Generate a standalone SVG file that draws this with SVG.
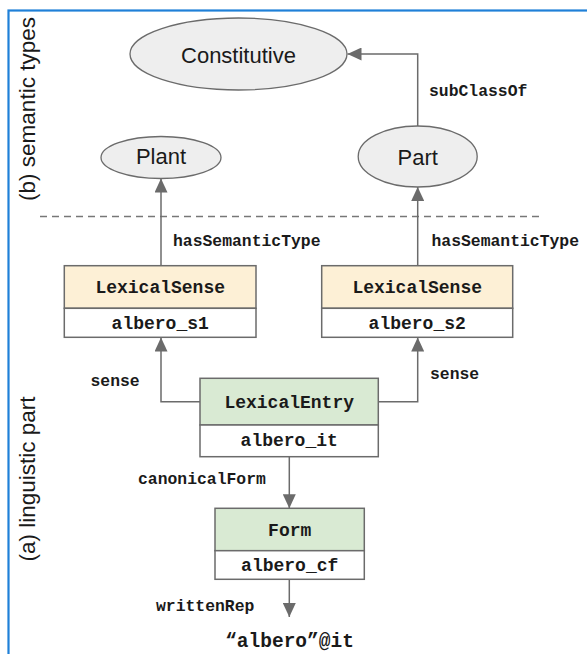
<svg xmlns="http://www.w3.org/2000/svg" width="587" height="654" viewBox="0 0 587 654">
<style>
.bg{fill:#ffffff}
.frame{fill:none;stroke:#1f80d8;stroke-width:2.2}
.ell{fill:#eeeeee;stroke:#6b6b6b;stroke-width:1.3}
.etxt{font-family:"Liberation Sans",Arial,sans-serif;font-size:22px;fill:#1a1a1a;text-anchor:middle;dominant-baseline:central}
.side{font-family:"Liberation Sans",Arial,sans-serif;font-size:22.5px;fill:#1a1a1a;text-anchor:middle}
.sense{fill:#fdf0d6;stroke:#6b6b6b;stroke-width:1.5}
.entry{fill:#d9ead3;stroke:#6b6b6b;stroke-width:1.5}
.low{fill:#ffffff;stroke:#6b6b6b;stroke-width:1.5}
.btxt{font-family:"Liberation Mono","Courier New",monospace;font-weight:bold;font-size:18px;fill:#1a1a1a;text-anchor:middle;dominant-baseline:central}
.ltxt{font-family:"Liberation Mono","Courier New",monospace;font-weight:bold;font-size:16.4px;fill:#1a1a1a;dominant-baseline:central}
.lit{font-family:"Liberation Mono","Courier New",monospace;font-weight:bold;font-size:19.5px;fill:#1a1a1a;text-anchor:middle}
.edge{fill:none;stroke:#6b6b6b;stroke-width:1.5}
.dash{fill:none;stroke:#777;stroke-width:1.3;stroke-dasharray:7,5}
</style>
<defs>
<marker id="ah" markerUnits="userSpaceOnUse" markerWidth="14" markerHeight="13" refX="14" refY="6.5" orient="auto">
<path d="M0,0 L14,6.5 L0,13 z" fill="#6b6b6b"/>
</marker>
</defs>
<rect class="bg" x="0" y="0" width="587" height="654"/>
<rect class="frame" x="8.5" y="10.5" width="620" height="700"/>

<text class="side" transform="translate(35,109) rotate(-90)">(b) semantic types</text>
<text class="side" transform="translate(35,479) rotate(-90)">(a) linguistic part</text>

<line class="dash" x1="40" y1="216.5" x2="542" y2="216.5"/>

<g id="connectors">
<polyline class="edge" points="417.7,126 417.7,54 347.5,54" marker-end="url(#ah)"/>
<line class="edge" x1="161" y1="265.7" x2="161" y2="178.5" marker-end="url(#ah)"/>
<line class="edge" x1="417.7" y1="265.7" x2="417.7" y2="187" marker-end="url(#ah)"/>
<polyline class="edge" points="200,401.7 161,401.7 161,337.5" marker-end="url(#ah)"/>
<polyline class="edge" points="378.3,401.7 417.7,401.7 417.7,337.5" marker-end="url(#ah)"/>
<line class="edge" x1="289.3" y1="456.7" x2="289.3" y2="508.3" marker-end="url(#ah)"/>
<line class="edge" x1="289.3" y1="579.3" x2="289.3" y2="617" marker-end="url(#ah)"/>
<text class="ltxt" x="429" y="91">subClassOf</text>
<text class="ltxt" x="173" y="241.7">hasSemanticType</text>
<text class="ltxt" x="431.5" y="241.7">hasSemanticType</text>
<text class="ltxt" x="90.5" y="381">sense</text>
<text class="ltxt" x="430" y="374">sense</text>
<text class="ltxt" x="138" y="479">canonicalForm</text>
<text class="ltxt" x="156" y="606">writtenRep</text>
</g>

<g id="constitutive">
<ellipse class="ell" cx="238.5" cy="54" rx="108.5" ry="36"/>
<text class="etxt" x="238.5" y="55">Constitutive</text>
</g>
<g id="plant">
<ellipse class="ell" cx="161" cy="157.5" rx="60" ry="21"/>
<text class="etxt" x="161" y="156">Plant</text>
</g>
<g id="part">
<ellipse class="ell" cx="417.7" cy="156.5" rx="59.5" ry="30.5"/>
<text class="etxt" x="417.7" y="157">Part</text>
</g>

<g id="sense1">
<rect class="sense" x="64.3" y="265.7" width="191.7" height="42.6"/>
<rect class="low" x="64.3" y="308.3" width="191.7" height="29"/>
<text class="btxt" x="160.2" y="288">LexicalSense</text>
<text class="btxt" x="160.2" y="323.5">albero_s1</text>
</g>
<g id="sense2">
<rect class="sense" x="321.7" y="265.7" width="191" height="42.6"/>
<rect class="low" x="321.7" y="308.3" width="191" height="29"/>
<text class="btxt" x="417.2" y="288">LexicalSense</text>
<text class="btxt" x="417.2" y="323.5">albero_s2</text>
</g>
<g id="entry">
<rect class="entry" x="200" y="378.3" width="178.3" height="46.7"/>
<rect class="low" x="200" y="425" width="178.3" height="31.7"/>
<text class="btxt" x="289.2" y="403">LexicalEntry</text>
<text class="btxt" x="289.2" y="440.5">albero_it</text>
</g>
<g id="form">
<rect class="entry" x="215" y="508.3" width="149.3" height="42.4"/>
<rect class="low" x="215" y="550.7" width="149.3" height="28.6"/>
<text class="btxt" x="289.7" y="530.5">Form</text>
<text class="btxt" x="289.7" y="566">albero_cf</text>
</g>
<g id="literal">
<text class="lit" x="289.5" y="647">“albero”@it</text>
</g>
</svg>
